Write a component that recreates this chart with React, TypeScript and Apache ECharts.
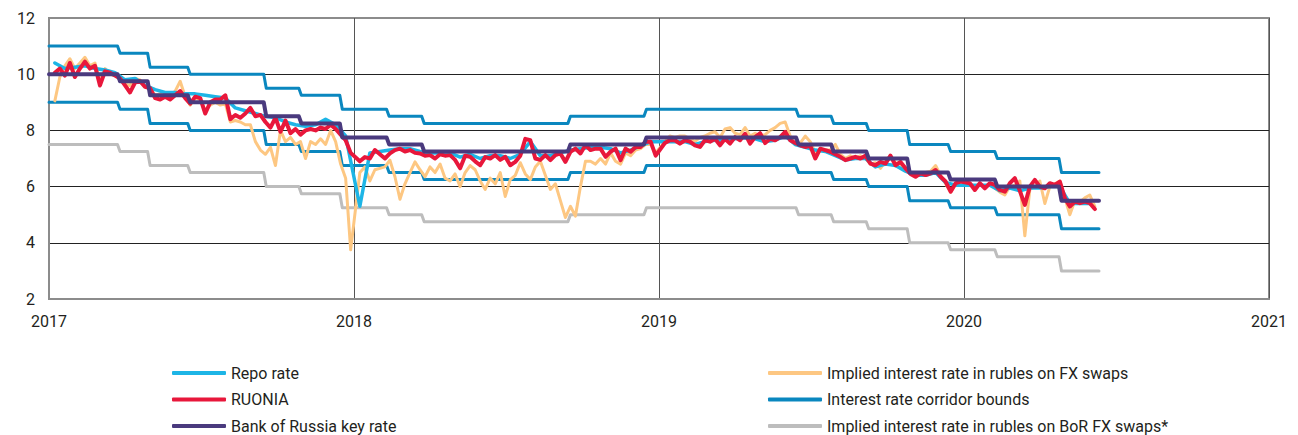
import React, { useEffect, useRef } from 'react';
import * as echarts from 'echarts';

// ---------- labels ----------
const yearLabels = [2017, 2018, 2019, 2020, 2021];
const rateTicks = [2, 4, 6, 8, 10, 12];

const NAME_REPO = 'Repo rate';
const NAME_RUONIA = 'RUONIA';
const NAME_KEY = 'Bank of Russia key rate';
const NAME_FX = 'Implied interest rate in rubles on FX swaps';
const NAME_CORRIDOR = 'Interest rate corridor bounds';
const NAME_BOR = 'Implied interest rate in rubles on BoR FX swaps*';

// ---------- policy rate schedule (effective dates) ----------
const policyDates = [
  '2017-01-01', '2017-03-27', '2017-05-02', '2017-06-19', '2017-09-18', '2017-10-30',
  '2017-12-18', '2018-02-12', '2018-03-26', '2018-09-17', '2018-12-17', '2019-06-17',
  '2019-07-29', '2019-09-09', '2019-10-28', '2019-12-16', '2020-02-10', '2020-04-27',
];
const lastDate = '2020-06-11';
const keyRate = [10, 9.75, 9.25, 9, 8.5, 8.25, 7.75, 7.5, 7.25, 7.5, 7.75, 7.5, 7.25, 7, 6.5, 6.25, 6, 5.5];
const corridorUpper = [11, 10.75, 10.25, 10, 9.5, 9.25, 8.75, 8.5, 8.25, 8.5, 8.75, 8.5, 8.25, 8, 7.5, 7.25, 7, 6.5];
const corridorLower = [9, 8.75, 8.25, 8, 7.5, 7.25, 6.75, 6.5, 6.25, 6.5, 6.75, 6.5, 6.25, 6, 5.5, 5.25, 5, 4.5];
const borSwapRate = [7.5, 7.25, 6.75, 6.5, 6, 5.75, 5.25, 5, 4.75, 5, 5.25, 5, 4.75, 4.5, 4, 3.75, 3.5, 3];

// ---------- market observations: every 6 days from 8 Jan of each year ----------
const obsStartDay = '01-08';
const obsStepDays = 6;
const repoStepDays = 12;

const ruonia2017 = [10.05, 10.2, 9.95, 10.4, 9.9, 10.2, 10.45, 10.2, 10.3, 9.6, 10.1, 10.05, 9.95, 9.85, 9.6, 9.35, 9.7, 9.75, 9.55, 9.5, 9.15, 9.1, 9.2, 9.1, 9.25, 9.4, 9.15, 8.95, 9.2, 9.15, 8.6, 9.0, 9.1, 9.1, 9.25, 8.4, 8.55, 8.45, 8.6, 8.8, 8.5, 8.55, 8.3, 8.1, 8.45, 7.95, 8.35, 7.9, 8.05, 7.85, 8.0, 8.05, 8.0, 8.1, 8.05, 8.2, 8.05, 7.85, 7.65, 7.2];
const ruonia2018 = [6.9, 7.05, 7.0, 7.3, 7.15, 7.0, 7.18, 7.3, 7.35, 7.25, 7.3, 7.2, 7.18, 7.1, 7.12, 7.0, 7.15, 7.1, 7.12, 6.95, 6.65, 7.1, 7.06, 6.9, 6.76, 7.05, 7.0, 7.12, 6.95, 7.06, 6.76, 6.88, 7.1, 7.7, 7.65, 7.0, 6.95, 7.12, 6.94, 7.12, 7.18, 6.88, 7.24, 7.35, 7.18, 7.47, 7.3, 7.35, 7.35, 7.06, 7.24, 7.35, 6.94, 7.35, 7.24, 7.41, 7.41, 7.6, 7.6, 7.1];
const ruonia2019 = [7.55, 7.65, 7.65, 7.53, 7.65, 7.6, 7.47, 7.41, 7.65, 7.6, 7.7, 7.47, 7.7, 7.53, 7.76, 7.65, 7.88, 7.53, 7.76, 7.9, 7.55, 7.7, 7.65, 7.76, 7.95, 7.65, 7.55, 7.47, 7.41, 7.45, 7.0, 7.35, 7.3, 7.24, 7.15, 7.06, 6.94, 7.0, 7.06, 7.0, 7.1, 6.82, 6.76, 6.88, 6.82, 7.1, 6.76, 6.88, 6.65, 6.45, 6.35, 6.47, 6.41, 6.47, 6.59, 6.35, 6.18, 5.82, 6.12, 6.18];
const ruonia2020 = [6.12, 5.88, 6.12, 5.94, 6.12, 6.06, 5.88, 5.82, 6.12, 6.3, 5.85, 5.35, 6.0, 6.24, 6.0, 5.94, 6.12, 6.06, 6.18, 5.59, 5.29, 5.47, 5.41, 5.47, 5.41, 5.2];

const fxSwap2017 = [9.05, 9.9, 10.3, 10.55, 10.2, 10.4, 10.6, 10.3, 10.4, 9.8, 10.2, 10.0, 9.95, 9.9, 9.65, 9.6, 9.85, 9.8, 9.55, 9.5, 9.25, 9.3, 9.2, 9.2, 9.4, 9.75, 9.2, 8.9, 9.15, 9.1, 8.7, 8.9, 9.0, 8.9, 8.95, 8.3, 8.35, 8.3, 8.2, 8.2, 7.6, 7.3, 7.15, 7.4, 6.75, 8.0, 7.6, 7.75, 7.5, 7.6, 7.0, 7.6, 7.5, 7.7, 7.5, 8.0, 7.6, 6.8, 6.3, 3.75];
const fxSwap2018 = [6.5, 6.7, 6.2, 6.6, 6.65, 6.7, 6.94, 6.35, 5.55, 6.1, 6.5, 6.88, 6.6, 6.35, 6.7, 6.5, 6.8, 6.3, 6.2, 6.45, 6.0, 6.5, 6.75, 6.6, 6.2, 5.9, 6.3, 6.1, 6.5, 5.65, 6.25, 6.4, 6.85, 6.45, 6.25, 6.7, 6.9, 6.4, 5.9, 6.1, 5.5, 4.9, 5.3, 4.95, 6.0, 6.9, 6.9, 6.8, 7.0, 6.8, 7.2, 6.9, 6.8, 7.2, 7.1, 7.3, 7.35, 7.5, 7.5, 7.2];
const fxSwap2019 = [7.6, 7.8, 7.75, 7.8, 7.8, 7.7, 7.6, 7.75, 7.8, 7.9, 7.95, 7.75, 8.05, 8.1, 7.9, 7.85, 8.1, 7.8, 7.9, 7.8, 7.85, 8.0, 8.1, 8.25, 8.3, 7.8, 7.5, 7.55, 7.8, 7.6, 7.2, 7.35, 7.3, 7.3, 7.5, 7.15, 7.0, 7.1, 7.0, 7.1, 7.0, 6.8, 6.85, 6.65, 6.9, 7.05, 6.85, 6.8, 6.6, 6.5, 6.45, 6.5, 6.5, 6.55, 6.75, 6.4, 6.1, 5.8, 6.1, 6.2];
const fxSwap2020 = [6.1, 6.0, 6.1, 6.0, 6.1, 5.95, 5.8, 5.7, 6.0, 6.05, 6.2, 4.25, 5.9, 6.0, 6.2, 5.4, 6.0, 6.1, 6.2, 5.6, 5.0, 5.5, 5.45, 5.6, 5.7, 5.3];

const repo2017 = [10.4, 10.2, 10.25, 10.3, 10.2, 10.15, 10.05, 9.8, 9.85, 9.6, 9.45, 9.35, 9.35, 9.3, 9.3, 9.25, 9.2, 9.15, 8.8, 8.7, 8.6, 8.5, 8.45, 8.3, 8.2, 8.15, 8.2, 8.4, 8.2, 7.8];
const repo2018 = [5.3, 7.2, 7.25, 7.3, 7.35, 7.35, 7.25, 7.2, 7.2, 7.2, 7.05, 7.15, 7.0, 7.1, 7.1, 7.0, 7.15, 7.6, 7.1, 7.1, 7.2, 7.3, 7.35, 7.4, 7.4, 7.35, 7.2, 7.3, 7.45, 7.6];
const repo2019 = [7.6, 7.6, 7.6, 7.5, 7.6, 7.65, 7.65, 7.7, 7.75, 7.7, 7.6, 7.65, 7.8, 7.5, 7.4, 7.3, 7.25, 7.1, 6.95, 7.0, 7.0, 6.7, 6.8, 6.75, 6.55, 6.4, 6.4, 6.5, 6.15, 6.05];
const repo2020 = [6.05, 6.05, 6.05, 5.85, 5.95, 5.85, 5.95, 5.95, 6.0, 6.0, 5.4, 5.4, 5.4];

// ---------- helpers ----------
const DAY = 86400000;
function parseDate(s: string): number {
  const [y, m, d] = s.split('-').map(Number);
  return Date.UTC(y, m - 1, d);
}
function yearFrac(t: number): number {
  const y = new Date(t).getUTCFullYear();
  const s = Date.UTC(y, 0, 1);
  const e = Date.UTC(y + 1, 0, 1);
  return y + (t - s) / (e - s);
}
function observed(year: number, stepDays: number, values: number[]) {
  const t0 = parseDate(`${year}-${obsStartDay}`);
  return values.map((v, i) => [yearFrac(t0 + i * stepDays * DAY), v]);
}
function stepped(values: number[]) {
  const pts: number[][] = [];
  policyDates.forEach((ds, k) => {
    const t = parseDate(ds);
    if (k > 0) pts.push([yearFrac(t - 3 * DAY), values[k - 1]]);
    pts.push([yearFrac(t), values[k]]);
  });
  pts.push([yearFrac(parseDate(lastDate)), values[values.length - 1]]);
  return pts;
}

const C_REPO = '#1db5e6';
const C_RUONIA = '#e8173b';
const C_KEY = '#4a3a7e';
const C_FX = '#fdc782';
const C_CORR = '#0a87bf';
const C_BOR = '#bdbdbd';
const FONT = 'Roboto';
const TEXT = '#231f20';

function lineSeries(name: string, color: string, width: number, data: number[][], z: number) {
  return {
    type: 'line',
    name,
    color,
    data,
    symbol: 'none',
    z,
    lineStyle: { color, width, join: 'round', cap: 'round' },
    emphasis: { disabled: true },
  };
}

export default function App() {
  const ref = useRef<HTMLDivElement>(null);

  useEffect(() => {
    if (!ref.current) return;
    const chart = echarts.init(ref.current, undefined, { renderer: 'svg' });

    const ruonia = [
      ...observed(2017, obsStepDays, ruonia2017),
      ...observed(2018, obsStepDays, ruonia2018),
      ...observed(2019, obsStepDays, ruonia2019),
      ...observed(2020, obsStepDays, ruonia2020),
    ];
    const fx = [
      ...observed(2017, obsStepDays, fxSwap2017),
      ...observed(2018, obsStepDays, fxSwap2018),
      ...observed(2019, obsStepDays, fxSwap2019),
      ...observed(2020, obsStepDays, fxSwap2020),
    ];
    const repo = [
      ...observed(2017, repoStepDays, repo2017),
      ...observed(2018, repoStepDays, repo2018),
      ...observed(2019, repoStepDays, repo2019),
      ...observed(2020, repoStepDays, repo2020),
    ];

    const legendCommon = {
      orient: 'vertical',
      top: 365,
      height: 70,
      itemWidth: 54,
      itemHeight: 4,
      itemGap: 10.5,
      icon: 'roundRect',
      selectedMode: false,
      padding: 0,
      textStyle: { fontSize: 16, color: TEXT, fontFamily: FONT, lineHeight: 16 },
    };

    const option = {
      animation: false,
      textStyle: { fontFamily: FONT },
      grid: {
        left: 49, right: 29, top: 18, bottom: 136,
        show: true, borderColor: '#8c8c8c', borderWidth: 2,
      },
      xAxis: {
        type: 'value',
        min: yearLabels[0],
        max: yearLabels[yearLabels.length - 1],
        interval: 1,
        axisLine: { show: true, lineStyle: { color: '#8c8c8c', width: 2 } },
        axisTick: { show: false },
        axisLabel: {
          color: TEXT, fontSize: 16, fontFamily: FONT, margin: 14,
          formatter: (v: number) => (yearLabels.includes(v) ? String(v) : ''),
        },
        splitLine: { show: true, lineStyle: { color: '#555555', width: 1 } },
      },
      yAxis: {
        type: 'value',
        min: rateTicks[0],
        max: rateTicks[rateTicks.length - 1],
        interval: 2,
        axisLine: { show: true, lineStyle: { color: '#8c8c8c', width: 2 } },
        axisTick: { show: false },
        axisLabel: {
          color: TEXT, fontSize: 16, fontFamily: FONT, margin: 14,
          formatter: (v: number) => (rateTicks.includes(v) ? String(v) : ''),
        },
        splitLine: { show: true, lineStyle: { color: ['#222222', '#222222', '#222222', '#222222', '#222222', '#8c8c8c'], width: 1 } },
      },
      legend: [
        { ...legendCommon, left: 172, data: [NAME_REPO, NAME_RUONIA, NAME_KEY] },
        { ...legendCommon, left: 768, data: [NAME_FX, NAME_CORRIDOR, NAME_BOR] },
      ],
      series: [
        lineSeries(NAME_BOR, C_BOR, 3, stepped(borSwapRate), 1),
        lineSeries(NAME_CORRIDOR, C_CORR, 3, stepped(corridorUpper), 2),
        lineSeries(NAME_CORRIDOR, C_CORR, 3, stepped(corridorLower), 2),
        lineSeries(NAME_FX, C_FX, 3, fx, 3),
        lineSeries(NAME_REPO, C_REPO, 3.5, repo, 4),
        lineSeries(NAME_RUONIA, C_RUONIA, 4, ruonia, 5),
        lineSeries(NAME_KEY, C_KEY, 4, stepped(keyRate), 6),
      ],
    };

    chart.setOption(option as any);
    return () => chart.dispose();
  }, []);

  return (
    <div
      ref={ref}
      style={{ position: 'fixed', left: 0, top: 0, width: 1298, height: 435, background: '#ffffff' }}
    />
  );
}
